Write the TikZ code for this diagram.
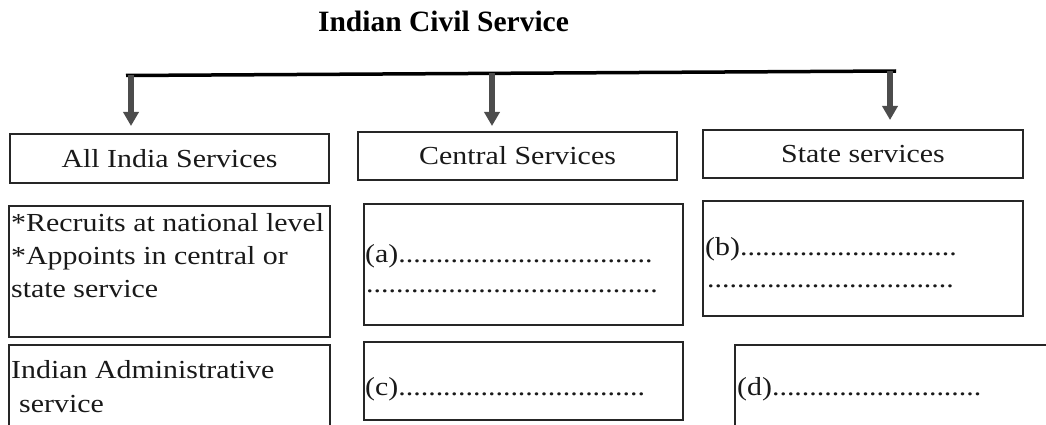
\documentclass[tikz,border=0pt]{standalone}
\usepackage{fontspec}
\setmainfont{Liberation Serif}
\newfontfamily\wf[FakeStretch=1.15]{Liberation Serif}
\usetikzlibrary{arrows.meta,calc}
\begin{document}
\begin{tikzpicture}[x=1pt,y=-1pt,
  box/.style={draw=black!85, line width=1.4pt, rectangle, inner sep=0pt},
  lbl/.style={font=\wf\fontsize{26}{33}\selectfont, inner sep=0pt, text=black!90},
  ttl/.style={font=\bfseries\fontsize{29.5}{35}\selectfont, inner sep=0pt},
  barline/.style={line width=3.5pt, draw=black},
  arr/.style={line width=6pt, draw=black!70, -{Triangle[width=15pt,length=14pt]}}]
\useasboundingbox (0,0) rectangle (1046,425);
\clip (0,0) rectangle (1046,425);

% title
\node[ttl, anchor=base] (title) at (443.5,32) {Indian Civil Service};

% bar and arrows
\coordinate (bl) at (126,75.5);
\coordinate (br) at (896,71);
\coordinate (s1) at (131,75.2);
\coordinate (s2) at (492,73.3);
\coordinate (s3) at (890,71);
\coordinate (t1) at (131,126);
\coordinate (t2) at (492,126);
\coordinate (t3) at (890,120);
\draw[barline] (bl) -- (br);
\draw[arr] (s1) -- (t1);
\draw[arr] (s2) -- (t2);
\draw[arr] (s3) -- (t3);

% top row
\node[box, lbl, minimum width=319pt, minimum height=49pt] (A1) at (169.5,158.5) {All India Services};
\node[box, lbl, minimum width=319pt, minimum height=48pt] (C1) at (517.5,156) {Central Services};
\node[box, lbl, minimum width=320pt, minimum height=48pt] (S1) at (863,154) {State services};

% second row boxes
\node[box, minimum width=321pt, minimum height=131pt] (A2) at (169.5,271.5) {};
\node[box, minimum width=319pt, minimum height=121pt] (Ca) at (523.5,264.5) {};
\node[box, minimum width=320pt, minimum height=115pt] (Sb) at (863,258.5) {};

% third row boxes
\node[box, minimum width=321pt, minimum height=95pt] (A3) at (169.5,392.5) {};
\node[box, minimum width=319pt, minimum height=78pt] (Cc) at (523.5,381) {};
\node[box, minimum width=325pt, minimum height=95pt] (Sd) at (897.5,392.5) {};

% texts
\node[lbl, anchor=base west] (a2l1) at (11,231) {*Recruits at national level};
\node[lbl, anchor=base west] (a2l2) at (11,264) {*Appoints in central or};
\node[lbl, anchor=base west] (a2l3) at (11,297) {state service};
\node[lbl, anchor=base west] (a3l1) at (11,378) {Indian Administrative};
\node[lbl, anchor=base west] (a3l2) at (19,412) {service};

\node[lbl, anchor=base west] (al1) at (365,262) {(a)..................................};
\node[lbl, anchor=base west] (al2) at (366,292) {.......................................};
\node[lbl, anchor=base west] (cl1) at (365,395) {(c).................................};
\node[lbl, anchor=base west] (bl1) at (705,255) {(b).............................};
\node[lbl, anchor=base west] (bl2) at (707,287) {.................................};
\node[lbl, anchor=base west] (dl1) at (737,395) {(d)............................};
\end{tikzpicture}
\end{document}
